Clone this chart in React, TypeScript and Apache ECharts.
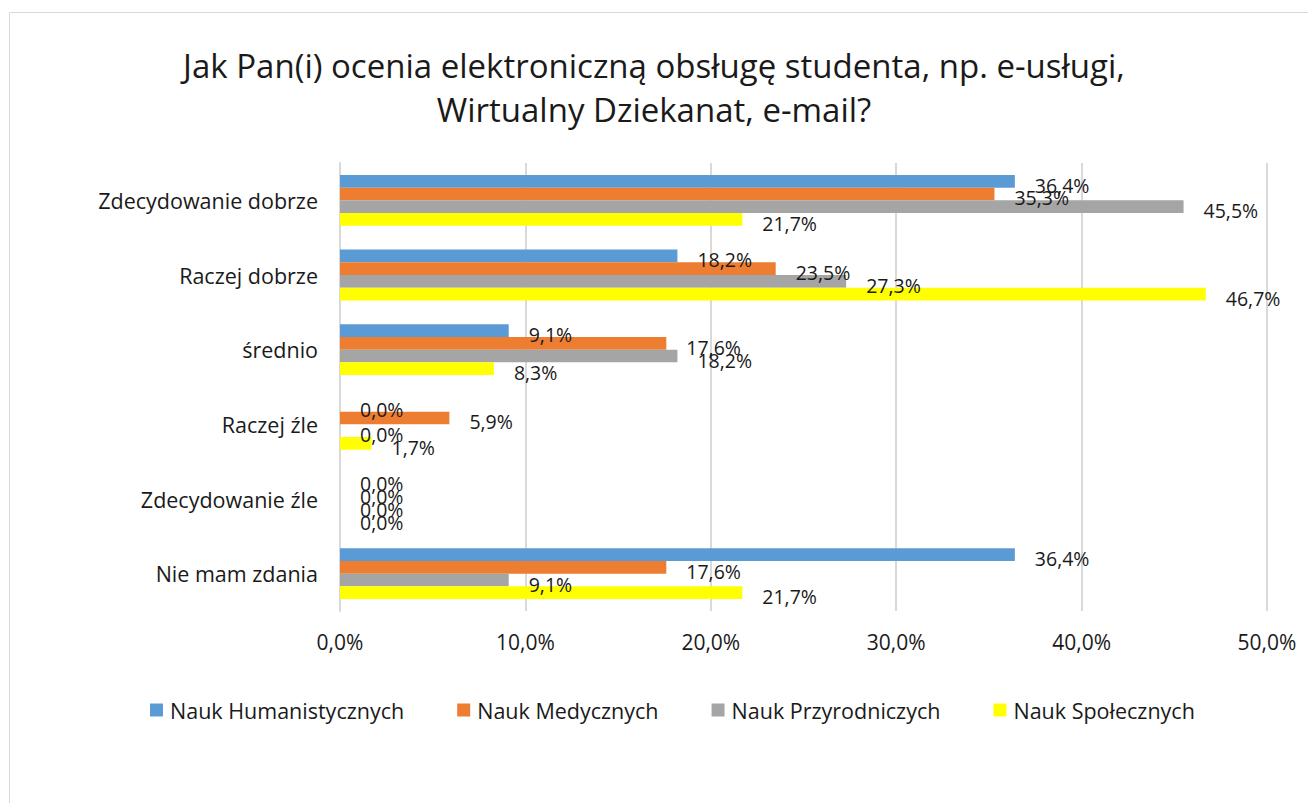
import React, { useEffect, useRef } from "react";
import * as echarts from "echarts";

const categories = [
  "Zdecydowanie dobrze",
  "Raczej dobrze",
  "średnio",
  "Raczej źle",
  "Zdecydowanie źle",
  "Nie mam zdania",
];
const seriesNames = [
  "Nauk Humanistycznych",
  "Nauk Medycznych",
  "Nauk Przyrodniczych",
  "Nauk Społecznych",
];
const humanistycznych = [36.4, 18.2, 9.1, 0.0, 0.0, 36.4];
const medycznych = [35.3, 23.5, 17.6, 5.9, 0.0, 17.6];
const przyrodniczych = [45.5, 27.3, 18.2, 0.0, 0.0, 9.1];
const spolecznych = [21.7, 46.7, 8.3, 1.7, 0.0, 21.7];
const colors = ["#5B9BD5", "#ED7D31", "#A5A5A5", "#FFFF00"];
const titleLines = [
  "Jak Pan(i) ocenia elektroniczną obsługę studenta, np. e-usługi,",
  "Wirtualny Dziekanat, e-mail?",
];

const FONT = "'Open Sans', sans-serif";
const TXT = "#1a1a1a";
const fmt = (v: number) => v.toFixed(1).replace(".", ",") + "%";

export default function App() {
  const ref = useRef<HTMLDivElement>(null);
  useEffect(() => {
    if (!ref.current) return;
    const chart = echarts.init(ref.current, undefined, { renderer: "svg" });
    const data = [humanistycznych, medycznych, przyrodniczych, spolecznych];
    chart.setOption({
      animation: false,
      backgroundColor: "#ffffff",
      color: colors,
      graphic: [
        {
          type: "rect",
          shape: { x: 9.5, y: 12.5, width: 1400, height: 900 },
          style: { fill: "none", stroke: "#D9D9D9", lineWidth: 1 },
          silent: true,
        },
        ...titleLines.map((t, i) => ({
          type: "text",
          x: 654,
          y: 82 + i * 44,
          silent: true,
          style: {
            text: t,
            fontFamily: FONT,
            fontSize: 33,
            fill: TXT,
            textAlign: "center",
            textVerticalAlign: "bottom",
          },
        })),
      ],
      legend: {
        bottom: 77,
        left: 145,
        itemWidth: 13,
        itemHeight: 13,
        itemGap: 53,
        icon: "rect",
        data: seriesNames,
        textStyle: { fontFamily: FONT, fontSize: 21.5, color: TXT, padding: [0, 0, 0, 2] },
      },
      grid: { left: 340, right: 41, top: 163, bottom: 192, containLabel: false },
      xAxis: {
        type: "value",
        min: 0,
        max: 50,
        interval: 10,
        axisLine: { show: false },
        axisTick: { show: false },
        splitLine: { lineStyle: { color: "#D9D9D9", width: 2 } },
        axisLabel: {
          formatter: (v: number) => fmt(v),
          fontFamily: FONT,
          fontSize: 21,
          color: TXT,
          margin: 20,
        },
      },
      yAxis: {
        type: "category",
        inverse: true,
        data: categories,
        axisLine: { lineStyle: { color: "#D9D9D9", width: 2 } },
        axisTick: { show: false },
        axisLabel: { fontFamily: FONT, fontSize: 21.5, color: TXT, margin: 22 },
      },
      series: seriesNames.map((name, i) => ({
        name,
        type: "bar",
        data: data[i],
        barGap: "0%",
        barCategoryGap: "32%",
        itemStyle: { color: colors[i] },
        label: {
          show: true,
          position: "right",
          distance: 20,
          offset: [0, 4],
          formatter: (p: any) => fmt(p.value),
          fontFamily: FONT,
          fontSize: 19.5,
          color: TXT,
        },
      })),
    });
    return () => chart.dispose();
  }, []);
  return (
    <div
      ref={ref}
      style={{ position: "fixed", left: 0, top: 0, width: 1308, height: 803 }}
    />
  );
}
